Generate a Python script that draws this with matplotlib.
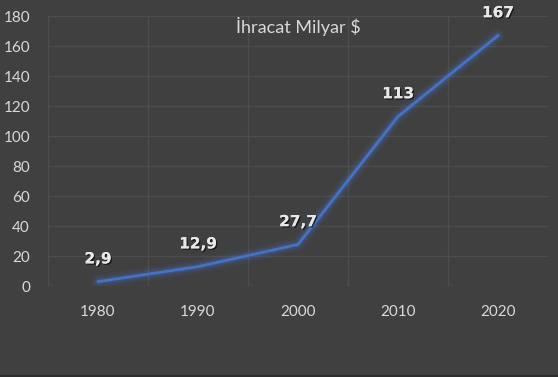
import matplotlib.pyplot as plt
import matplotlib.patheffects as pe

years = ['1980', '1990', '2000', '2010', '2020']
exports = [2.9, 12.9, 27.7, 113, 167]
value_labels = ['2,9', '12,9', '27,7', '113', '167']

bg = '#404040'
grid_col = '#4d4d4d'
text_col = '#d9d9d9'
line_col = '#4472c4'

plt.rcParams['font.family'] = ['Lato', 'DejaVu Sans']

fig = plt.figure(figsize=(5.58, 3.77), dpi=100, facecolor=bg)
ax = fig.add_axes([48 / 558, (377 - 286) / 377, 500 / 558, 270 / 377])
ax.set_facecolor(bg)

x = range(len(years))
# soft glow behind the line
for lw, a in [(10, 0.08), (7, 0.12), (4.5, 0.2)]:
    ax.plot(x, exports, color=line_col, lw=lw, alpha=a, solid_capstyle='round')
ax.plot(x, exports, color=line_col, lw=2, solid_capstyle='round')

shadow = [pe.withSimplePatchShadow(offset=(1, -1), shadow_rgbFace='black', alpha=0.6), pe.Normal()]
for i, (v, lab) in enumerate(zip(exports, value_labels)):
    ax.annotate(lab, (i, v), xytext=(0, 11), textcoords='offset points',
                ha='center', va='bottom', color='#e8e8e8', fontsize=11,
                fontweight='bold', family='DejaVu Sans', path_effects=shadow)

ax.set_xlim(-0.5, len(years) - 0.5)
ax.set_ylim(0, 180)
ax.set_yticks(range(0, 181, 20))
ax.set_xticks(list(x))
ax.set_xticklabels(years)

# gridlines at category boundaries
ax.set_xticks([i - 0.5 for i in range(len(years) + 1)], minor=True)
ax.grid(True, which='minor', axis='x', color=grid_col, lw=1)
ax.grid(True, which='major', axis='y', color=grid_col, lw=1)
ax.set_axisbelow(True)

ax.tick_params(axis='both', which='both', length=0, colors=text_col, labelsize=11)
ax.tick_params(axis='y', pad=13)
ax.tick_params(axis='x', pad=14)
for s in ax.spines.values():
    s.set_visible(False)

fig.text(298 / 558, 1 - 27 / 377, 'İhracat Milyar $', ha='center', va='center',
         color=text_col, fontsize=13)

# thin darker frame line along the bottom edge
fig.add_artist(plt.Line2D([0, 1], [0.003, 0.003], color='#2e2e2e', lw=1.5))

plt.savefig('out.png', dpi=100, facecolor=bg)
